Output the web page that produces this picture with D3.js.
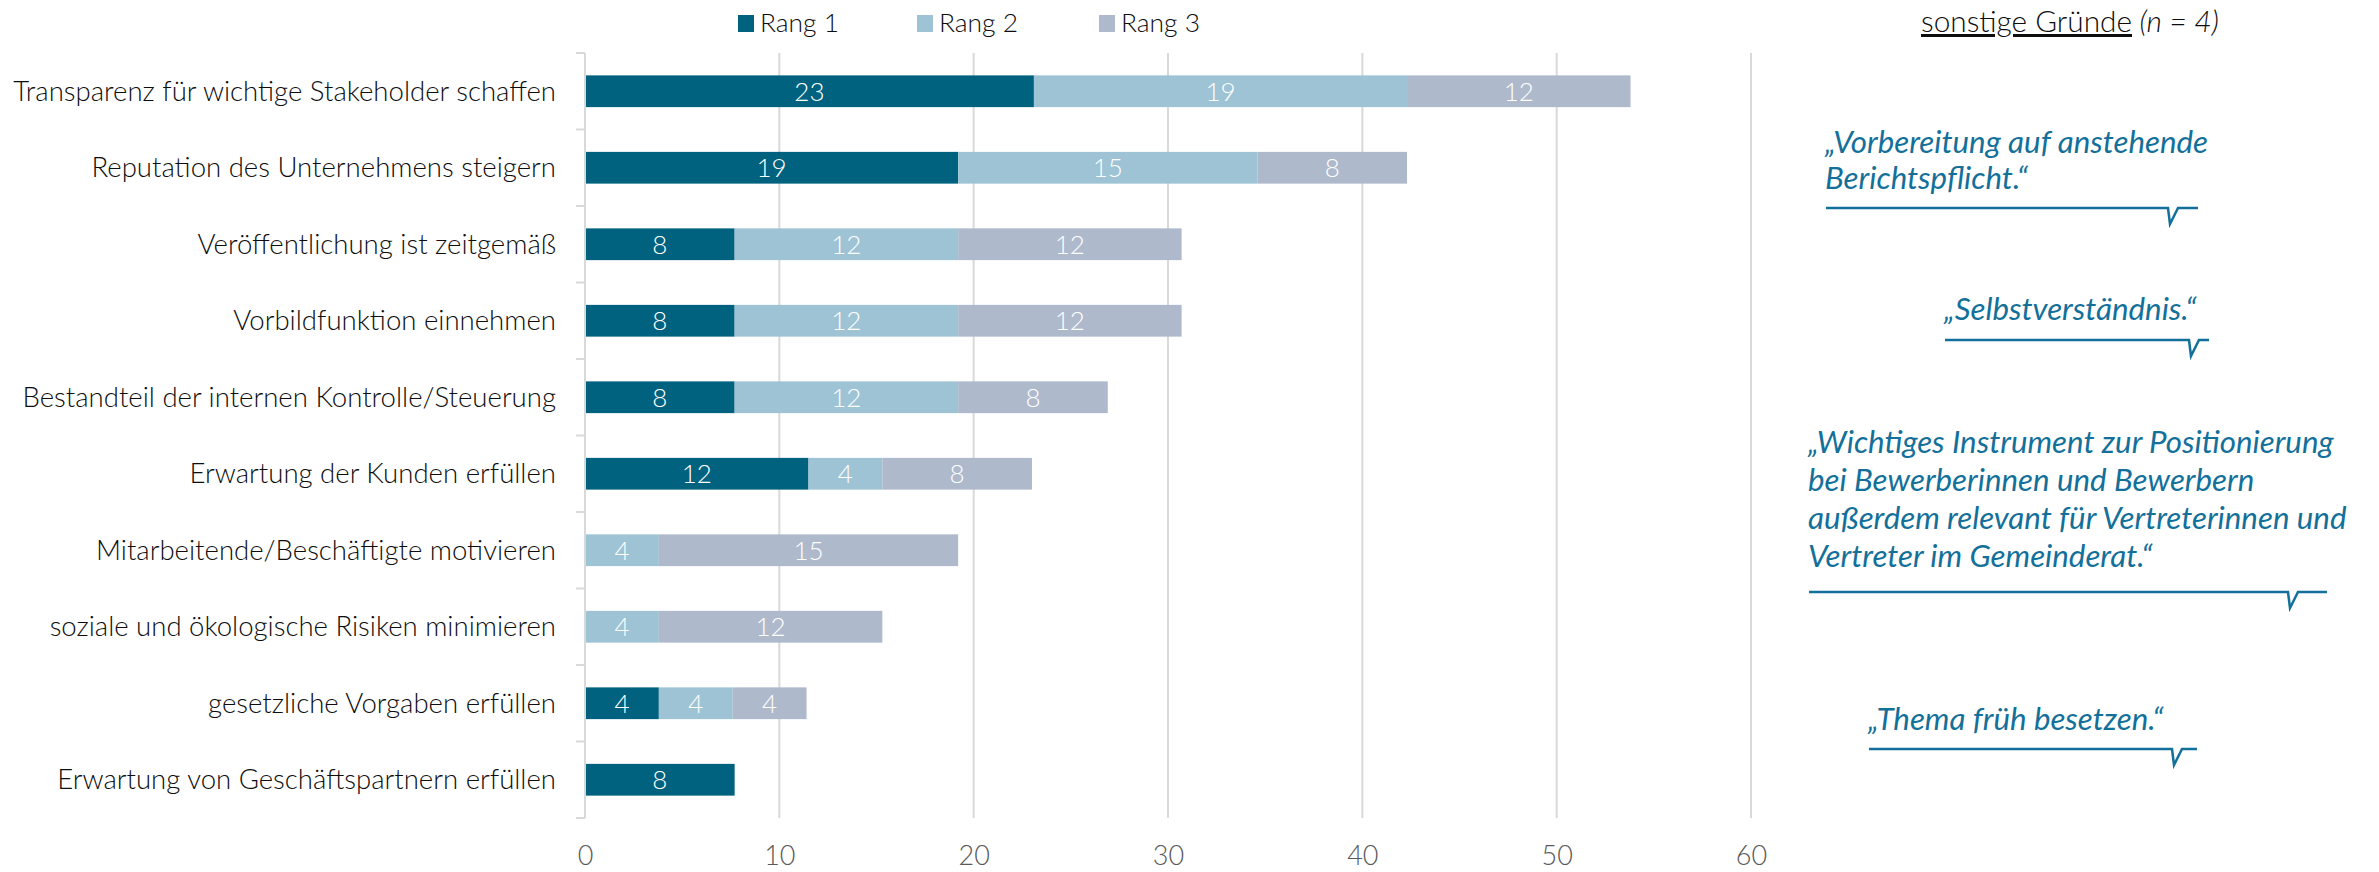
<!DOCTYPE html>
<html><head><meta charset="utf-8">
<script src="https://cdn.jsdelivr.net/npm/d3@7"></script>
<style>
html,body{margin:0;padding:0;background:#fff;}
svg{display:block;}
text{font-family:Lato,"Carlito","Open Sans",sans-serif;}
</style></head>
<body>
<svg id="chart" width="2379" height="872"></svg>
<script>
// ---- data ----
const categories = [
  "Transparenz für wichtige Stakeholder schaffen",
  "Reputation des Unternehmens steigern",
  "Veröffentlichung ist zeitgemäß",
  "Vorbildfunktion einnehmen",
  "Bestandteil der internen Kontrolle/Steuerung",
  "Erwartung der Kunden erfüllen",
  "Mitarbeitende/Beschäftigte motivieren",
  "soziale und ökologische Risiken minimieren",
  "gesetzliche Vorgaben erfüllen",
  "Erwartung von Geschäftspartnern erfüllen"
];
const seriesNames = ["Rang 1", "Rang 2", "Rang 3"];
const rang1 = [23.1, 19.2, 7.7, 7.7, 7.7, 11.5, 0, 0, 3.8, 7.7];
const rang2 = [19.2, 15.4, 11.5, 11.5, 11.5, 3.8, 3.8, 3.8, 3.8, 0];
const rang3 = [11.5, 7.7, 11.5, 11.5, 7.7, 7.7, 15.4, 11.5, 3.8, 0];
const xTicks = [0, 10, 20, 30, 40, 50, 60];
const sideTitle = "sonstige Gründe";
const sideN = "4";
const quotes = [
  ["„Vorbereitung auf anstehende", "Berichtspflicht.“"],
  ["„Selbstverständnis.“"],
  ["„Wichtiges Instrument zur Positionierung", "bei Bewerberinnen und Bewerbern", "außerdem relevant für Vertreterinnen und", "Vertreter im Gemeinderat.“"],
  ["„Thema früh besetzen.“"]
];

// ---- layout ----
const colors = ["#00627f", "#9dc3d4", "#aeb9cc"];
const quoteColor = "#13709a";
const svg = d3.select("#chart");
const plot = {left: 585, right: 1751, top: 53, bottom: 818};

function fit(sel, target, base) {
  sel.attr("font-size", base);
  let m = 0;
  sel.each(function() { m = Math.max(m, this.getComputedTextLength()); });
  const s = m > 0 ? base * target / m : base;
  sel.attr("font-size", s);
  return s;
}

const x = d3.scaleLinear().domain([0, 60]).range([plot.left, plot.right]);
const y = d3.scaleBand().domain(categories).range([plot.top, plot.bottom]).paddingInner(0.585).paddingOuter(0.2925);
const yb = d3.scaleBand().domain(categories).range([plot.top, plot.bottom]);

// gridlines
svg.append("g").selectAll("line").data(xTicks.filter(d => d > 0)).join("line")
  .attr("x1", d => x(d)).attr("x2", d => x(d))
  .attr("y1", plot.top).attr("y2", plot.bottom)
  .attr("stroke", "#d9d9d9").attr("stroke-width", 2);

// stacked data
const rows = categories.map((c, i) => ({cat: c, "Rang 1": rang1[i], "Rang 2": rang2[i], "Rang 3": rang3[i]}));
const stacked = d3.stack().keys(seriesNames)(rows);

const gBars = svg.append("g");
const gLabels = svg.append("g");
stacked.forEach((layer, k) => {
  const g = gBars.append("g").attr("fill", colors[k]);
  g.selectAll("rect").data(layer.filter(d => d[1] - d[0] > 0)).join("rect")
    .attr("x", d => x(d[0]))
    .attr("width", d => x(d[1]) - x(d[0]))
    .attr("y", d => y(d.data.cat))
    .attr("height", y.bandwidth());
  gLabels.append("g").selectAll("text").data(layer.filter(d => d[1] - d[0] > 0)).join("text")
    .attr("x", d => (x(d[0]) + x(d[1])) / 2)
    .attr("y", d => y(d.data.cat) + y.bandwidth() / 2)
    .attr("dy", "0.36em")
    .attr("text-anchor", "middle")
    .attr("fill", "#fff")
    .attr("font-size", 26)
    .attr("font-weight", 300)
    .text(d => Math.round(d[1] - d[0]));
});

// y axis (line + ticks at band boundaries)
const yAxis = svg.append("g");
yAxis.append("line").attr("x1", plot.left).attr("x2", plot.left)
  .attr("y1", plot.top).attr("y2", plot.bottom)
  .attr("stroke", "#d9d9d9").attr("stroke-width", 2);
const bounds = categories.map(c => yb(c)).concat([plot.bottom]);
yAxis.selectAll("line.t").data(bounds).join("line").attr("class", "t")
  .attr("x1", plot.left - 9).attr("x2", plot.left)
  .attr("y1", d => d).attr("y2", d => d)
  .attr("stroke", "#d9d9d9").attr("stroke-width", 2);
const catText = yAxis.selectAll("text").data(categories).join("text")
  .attr("x", 556)
  .attr("y", d => yb(d) + yb.bandwidth() / 2)
  .attr("dy", "0.35em")
  .attr("text-anchor", "end")
  .attr("fill", "#0d0d0d")
  .attr("font-weight", 300)
  .text(d => d);
fit(catText, 543, 25);

// x axis labels
const xAxis = svg.append("g").attr("transform", `translate(0,${plot.bottom})`)
  .call(d3.axisBottom(x).tickValues(xTicks).tickSize(0).tickPadding(0).tickFormat(d3.format("d")));
xAxis.select(".domain").remove();
xAxis.selectAll("text").attr("y", 47).attr("dy", 0).attr("fill", "#595959")
  .attr("font-size", 27).attr("font-weight", 300)
  .style("font-family", "Lato, Carlito, sans-serif");

// legend
const legX = [738, 917, 1099];
const leg = svg.append("g");
seriesNames.forEach((s, k) => {
  leg.append("rect").attr("x", legX[k]).attr("y", 15).attr("width", 16).attr("height", 17).attr("fill", colors[k]);
  const lt = leg.append("text").attr("x", legX[k] + 22).attr("y", 32).attr("font-weight", 300)
    .attr("fill", "#0d0d0d").text(s);
  fit(lt, 79, 25);
});

// side title
const t = svg.append("text").attr("x", 1921).attr("y", 32).attr("font-weight", 300).attr("fill", "#0d0d0d");
t.append("tspan").attr("text-decoration", "underline").text(sideTitle);
t.append("tspan").attr("font-style", "italic").text(" (");
t.append("tspan").attr("font-style", "italic").text("n");
t.append("tspan").attr("font-style", "italic").text(" = " + sideN + ")");
fit(t, 298, 27);

// quotes
const qLayout = [
  {x: 1825, y: 153, lh: 36, ux0: 1826, ux1: 2198, uy: 208, nx: 2168},
  {x: 1944, y: 320, lh: 36, ux0: 1945, ux1: 2209, uy: 340, nx: 2189},
  {x: 1808, y: 453, lh: 38, ux0: 1809, ux1: 2327, uy: 592, nx: 2288},
  {x: 1868, y: 730, lh: 36, ux0: 1869, ux1: 2197, uy: 749, nx: 2172}
];
// common quote font size fitted on the widest line of quote 3
const probe = svg.append("text").attr("font-style", "italic").attr("font-size", 28).text(quotes[2][0]);
const qSize = 28 * 526 / probe.node().getComputedTextLength();
probe.remove();
quotes.forEach((lines, i) => {
  const L = qLayout[i];
  const g = svg.append("g");
  g.selectAll("text").data(lines).join("text")
    .attr("x", L.x).attr("y", (d, j) => L.y + j * L.lh)
    .attr("font-size", qSize).attr("font-style", "italic")
    .attr("fill", quoteColor).text(d => d);
  const p = d3.path();
  p.moveTo(L.ux0, L.uy); p.lineTo(L.nx, L.uy); p.lineTo(L.nx + 2, L.uy + 16);
  p.lineTo(L.nx + 10, L.uy); p.lineTo(L.ux1, L.uy);
  g.append("path").attr("d", p.toString()).attr("fill", "none")
    .attr("stroke", quoteColor).attr("stroke-width", 2.5).attr("stroke-linejoin", "miter");
});
</script>
</body></html>
